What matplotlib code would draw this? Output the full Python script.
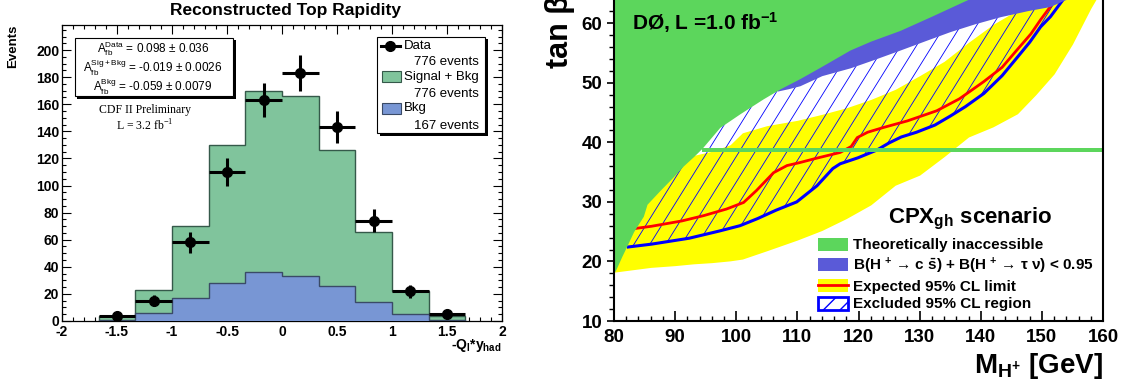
import numpy as np
import matplotlib
matplotlib.use("Agg")
import matplotlib.pyplot as plt
from matplotlib.patches import Rectangle, Polygon, Patch
from matplotlib.lines import Line2D
from matplotlib.collections import LineCollection
from matplotlib.ticker import MultipleLocator, FuncFormatter

plt.rcParams['font.family'] = ['Liberation Sans', 'DejaVu Sans']
plt.rcParams['font.weight'] = 'bold'
plt.rcParams['mathtext.fontset'] = 'custom'
plt.rcParams['mathtext.rm'] = 'Liberation Sans'
plt.rcParams['mathtext.bf'] = 'Liberation Sans:bold'
plt.rcParams['mathtext.it'] = 'Liberation Sans:italic'
plt.rcParams['mathtext.sf'] = 'Liberation Sans'

# ------------------------------------------------------------
# left panel: reconstructed top rapidity (CDF)
# ------------------------------------------------------------
bin_edges = [-5/3, -4/3, -1.0, -2/3, -1/3, 0.0, 1/3, 2/3, 1.0, 4/3, 5/3]
sig_bkg = [4, 23, 70, 130, 170, 166, 126, 66, 22, 4]
bkg = [1, 6, 17, 28, 36, 33, 26, 14, 5, 1]
data = [4, 15, 58, 110, 163, 183, 143, 74, 22, 5]

asym_lines = [r'$\mathregular{A_{fb}^{Data}}$ = 0.098 ± 0.036',
              r'$\mathregular{A_{fb}^{Sig+Bkg}}$ = -0.019 ± 0.0026',
              r'$\mathregular{A_{fb}^{Bkg}}$ = -0.059 ± 0.0079']
legend_left = [('Data', '776 events'), ('Signal + Bkg', '776 events'), ('Bkg', '167 events')]

# ------------------------------------------------------------
# right panel: D0 charged Higgs exclusion, CPX_gh
# ------------------------------------------------------------
# lower edge of the theoretically inaccessible region
green_m = [80, 80.2, 81.3, 82.1, 83.2, 84.8, 85.4, 87.5, 89.5, 91.3, 93.0, 94.4, 97.3,
           100.6, 104.4, 107.2, 110.4, 113.7, 118.6, 122.0, 126.8, 132.0, 137.7, 145, 160]
green_lo = [18.3, 18.4, 20.9, 22.6, 25.0, 27.6, 29.6, 31.9, 34.0, 36.0, 37.6, 39.0, 42.5,
            44.8, 47.3, 49.0, 50.7, 52.6, 55.5, 57.0, 58.8, 61.2, 63.9, 67, 73]

# lower edge of the B(cs)+B(tau nu) < 0.95 band
blue_m = [106.7, 108.5, 110.4, 114, 118.6, 122.5, 126.8, 131, 135, 139, 143.2, 147.6, 151.3, 153.7, 160]
blue_lo = [48.6, 49.0, 49.5, 51.2, 52.5, 53.9, 55.5, 57.1, 58.6, 59.9, 61.1, 62.1, 62.8, 63.9, 66]

# expected limit band
yel_m = [80, 83, 86, 90, 93, 96, 99, 101, 105, 110, 114, 118, 122, 126, 130, 134,
         138, 142, 146, 149, 152, 155, 158, 160]
yel_lo = [18.2, 18.6, 19.0, 19.3, 19.6, 19.8, 20.1, 20.4, 21.8, 23.6, 25.2, 27.2, 29.5,
          32.8, 34.5, 37.6, 40.9, 42.6, 44.8, 48.0, 51.5, 56.5, 62.5, 66]
yel_hi = [30, 32, 34, 36.5, 37.8, 38.5, 39.6, 41.6, 42.8, 43.7, 44.7, 45.8, 47.2,
          48.9, 51.2, 53.6, 56.8, 59.8, 62.2, 64.5, 66, 68, 70, 71]

# expected 95% CL limit
exp_m = [83.2, 86.1, 91.1, 94.7, 98.4, 101.2, 103.3, 106.1, 108.3, 110.4, 113, 117,
         118.8, 119.8, 121.5, 124.1, 128, 132.8, 136.5, 140.5, 143.5, 146, 148.2, 149.8, 151.4, 152.2]
exp_t = [25.5, 25.9, 26.8, 27.7, 28.8, 29.9, 31.9, 34.9, 36.1, 36.6, 37.3, 38.3,
         39.3, 40.8, 41.7, 42.5, 43.6, 45.3, 47.3, 50.2, 52.6, 55.6, 58.2, 60.6, 62.8, 64.0]

# observed 95% CL limit (lower edge of excluded region)
obs_m = [82.1, 86.1, 92.3, 97.2, 100.6, 103.5, 106.5, 109.9, 113.2, 115.8, 117, 119.9,
         123, 125, 127, 129.5, 132.5, 135, 137.5, 140.5, 143.5, 146, 148, 149.8, 151.4, 153.5]
obs_t = [22.4, 22.9, 23.9, 25.1, 26.0, 27.2, 28.6, 30.0, 32.7, 35.6, 36.4, 37.4,
         38.7, 39.9, 40.9, 41.7, 42.9, 44.4, 46.0, 48.2, 51.2, 54.3, 56.8, 59.4, 61.1, 64.0]

# thin inaccessible strip
strip_m = [94.4, 160]
strip_lo = 38.3
strip_hi = 39.1

c_green_l = '#80c49c'
c_blue_l = '#7896d4'
c_green_r = '#5cd65c'
c_blue_r = '#5a5ad8'

fig = plt.figure(figsize=(11.26, 3.92), dpi=100)
W, H = 1126, 392

# ============================================================
# Left panel
# ============================================================
ax1 = fig.add_axes([62/W, 1-321/H, 440/W, 296/H])

ax1.stairs(sig_bkg, bin_edges, fill=True, facecolor=c_green_l, edgecolor='#35594a',
           linewidth=1, zorder=2)
ax1.stairs(bkg, bin_edges, fill=True, facecolor=c_blue_l, edgecolor='#3a4a66',
           linewidth=1, zorder=3)

centers = [(a + b) / 2 for a, b in zip(bin_edges[:-1], bin_edges[1:])]
half_w = [(b - a) / 2 for a, b in zip(bin_edges[:-1], bin_edges[1:])]
ax1.errorbar(centers, data, xerr=half_w, yerr=np.sqrt(data), fmt='o', color='black',
             markersize=7, elinewidth=2.2, capsize=0, zorder=5)

ax1.set_xlim(-2, 2)
ax1.set_ylim(0, 218.5)
ax1.xaxis.set_major_locator(MultipleLocator(0.5))
ax1.xaxis.set_minor_locator(MultipleLocator(0.1))
ax1.yaxis.set_major_locator(MultipleLocator(20))
ax1.yaxis.set_minor_locator(MultipleLocator(5))
ax1.xaxis.set_major_formatter(FuncFormatter(lambda v, p: '%g' % v))
ax1.tick_params(which='both', direction='in', top=True, right=True, labelsize=10)
ax1.tick_params(which='major', length=6.5, width=0.8)
ax1.tick_params(which='minor', length=3.2, width=0.8)
ax1.tick_params(axis='y', pad=2)
ax1.tick_params(axis='x', pad=3)
for s in ax1.spines.values():
    s.set_linewidth(0.9)

ax1.set_xlabel(r'-Q$_{\mathbf{l}}$*y$_{\mathbf{had}}$', fontsize=10, fontweight='bold', loc='right')
ax1.xaxis.set_label_coords(1.0, -0.055)
fig.text(13/W, 1-25/H, 'Events', rotation=90, ha='center', va='top', fontsize=9.5,
         fontweight='bold')
fig.text(285/W, 1-10/H, 'Reconstructed Top Rapidity', ha='center', va='center',
         fontsize=12.5, fontweight='bold')

# asymmetry box with drop shadow
dx, dy = 2.5/440, 2.5/296
bx0, by0, bw, bh = 0.0295, 0.760, 0.3595, 0.197
ax1.add_patch(Rectangle((bx0 + dx, by0 - dy), bw, bh, transform=ax1.transAxes,
                        facecolor='black', edgecolor='none', zorder=9))
ax1.add_patch(Rectangle((bx0, by0), bw, bh, transform=ax1.transAxes,
                        facecolor='white', edgecolor='black', linewidth=0.8, zorder=10))
for txt, yy in zip(asym_lines, [0.921, 0.854, 0.792]):
    ax1.text(0.207, yy, txt, transform=ax1.transAxes, ha='center', va='center',
             fontsize=8.5, fontweight='normal', zorder=11)

ax1.text(0.189, 0.713, 'CDF II Preliminary', transform=ax1.transAxes, ha='center',
         va='center', fontsize=8.5, fontweight='normal', family='Liberation Serif')
ax1.text(0.189, 0.659, r'L = 3.2 fb$^{\mathregular{-1}}$', transform=ax1.transAxes,
         ha='center', va='center', fontsize=8.5, fontweight='normal', family='Liberation Serif')

# legend box with drop shadow
lx0, ly0, lw_, lh = 0.7166, 0.634, 0.2448, 0.3265
ax1.add_patch(Rectangle((lx0 + dx, ly0 - dy), lw_, lh, transform=ax1.transAxes,
                        facecolor='black', edgecolor='none', zorder=9))
ax1.add_patch(Rectangle((lx0, ly0), lw_, lh, transform=ax1.transAxes,
                        facecolor='white', edgecolor='black', linewidth=0.8, zorder=10))
row_y = [0.930, 0.825, 0.719]
sub_y = [0.876, 0.766, 0.660]
ax1.plot([0.7243, 0.7682], [row_y[0], row_y[0]], color='black', lw=2.2,
         transform=ax1.transAxes, zorder=11)
ax1.plot([0.7455], [row_y[0]], 'o', color='black', markersize=7,
         transform=ax1.transAxes, zorder=11)
for yy, col, ec in [(row_y[1], c_green_l, '#35594a'), (row_y[2], c_blue_l, '#3a4a66')]:
    ax1.add_patch(Rectangle((0.7266, yy - 0.018), 0.0432, 0.036, transform=ax1.transAxes,
                            facecolor=col, edgecolor=ec, linewidth=0.8, zorder=11))
for (name, count), yy, ys in zip(legend_left, row_y, sub_y):
    ax1.text(0.778, yy, name, transform=ax1.transAxes, ha='left', va='center',
             fontsize=9.5, fontweight='normal', zorder=11)
    ax1.text(0.9484, ys, count, transform=ax1.transAxes, ha='right', va='center',
             fontsize=9.5, fontweight='normal', zorder=11)

# ============================================================
# Right panel
# ============================================================
ax2 = fig.add_axes([614/W, 1-321/H, 489/W, 321/H])

ax2.fill_between(yel_m, yel_lo, yel_hi, color='#ffff00', linewidth=0, zorder=1)

# excluded region: hatch lines clipped to area above the observed limit
hatch_poly = Polygon(np.column_stack([np.r_[obs_m, obs_m[-1], obs_m[0]],
                                      np.r_[obs_t, 80, 80]]),
                     closed=True, facecolor='none', edgecolor='none')
ax2.add_patch(hatch_poly)
slope = 1.65
segs = [[(c, 0), (c + 80/slope, 80)] for c in np.arange(20, 200, 2.6)]
lc = LineCollection(segs, colors='#0000ff', linewidths=0.6, zorder=2)
ax2.add_collection(lc, autolim=False)
lc.set_clip_path(hatch_poly)

ax2.plot(exp_m, exp_t, color='#ff0000', lw=2.0, zorder=3, solid_capstyle='butt')
ax2.plot(obs_m, obs_t, color='#0000ff', lw=2.2, zorder=3, solid_capstyle='butt')

ax2.fill_between(blue_m, blue_lo, 80, color=c_blue_r, linewidth=0, zorder=4)
ax2.fill_between(green_m, green_lo, 80, color=c_green_r, linewidth=0, zorder=5)
ax2.fill_between(strip_m, strip_lo, strip_hi, color=c_green_r, linewidth=0, zorder=6)

ax2.set_xlim(80, 160)
ax2.set_ylim(10, 63.9)
ax2.spines['top'].set_visible(False)
for s in ['left', 'bottom', 'right']:
    ax2.spines[s].set_linewidth(1.5)
    ax2.spines[s].set_zorder(8)
ax2.xaxis.set_major_locator(MultipleLocator(10))
ax2.xaxis.set_minor_locator(MultipleLocator(2))
ax2.yaxis.set_major_locator(MultipleLocator(10))
ax2.yaxis.set_minor_locator(MultipleLocator(2))
ax2.tick_params(axis='x', which='major', direction='in', length=7, width=1.2, pad=6,
                labelsize=13.5)
ax2.tick_params(axis='x', which='minor', direction='in', length=3.6, width=1.0)
ax2.tick_params(axis='y', which='major', direction='out', length=5.3, width=1.2, pad=3,
                labelsize=13.5)
ax2.tick_params(axis='y', which='minor', direction='out', length=3.6, width=1.0)

ax2.set_xlabel(r'M$_{\mathbf{H^{+}}}$ [GeV]', fontsize=20, fontweight='bold', loc='right')
ax2.xaxis.set_label_coords(1.0, -0.095)
fig.text(560/W, 1-68/H, 'tan β', rotation=90, ha='center', va='bottom', fontsize=22,
         fontweight='bold')

ax2.text(0.037, 0.9065, r'DØ, L =1.0 fb$^{\mathbf{-1}}$', transform=ax2.transAxes,
         ha='left', va='baseline', fontsize=15, fontweight='bold', zorder=9)
ax2.text(0.561, 0.303, r'CPX$_{\mathbf{gh}}$ scenario', transform=ax2.transAxes,
         ha='left', va='baseline', fontsize=16, fontweight='bold', zorder=9)

handles = [Patch(facecolor=c_green_r, edgecolor='none'),
           Patch(facecolor=c_blue_r, edgecolor='none'),
           (Patch(facecolor='#ffff00', edgecolor='none'), Line2D([], [], color='#ff0000', lw=2)),
           Patch(facecolor='white', edgecolor='#0000ff', hatch='//', linewidth=2)]
labels = ['Theoretically inaccessible',
          r'B(H $^{\mathbf{+}}$ → c $\mathbf{\bar{s}}$) + B(H $^{\mathbf{+}}$ → τ ν) < 0.95',
          'Expected 95% CL limit',
          'Excluded 95% CL region']
leg = ax2.legend(handles, labels, loc='lower left', bbox_to_anchor=(0.417, 0.03),
                 frameon=False, borderpad=0, borderaxespad=0, handlelength=1.96,
                 handleheight=0.92, handletextpad=0.33, labelspacing=0.2,
                 prop={'weight': 'bold', 'size': 11})
leg.set_zorder(9)

fig.savefig('out.png', dpi=100)
